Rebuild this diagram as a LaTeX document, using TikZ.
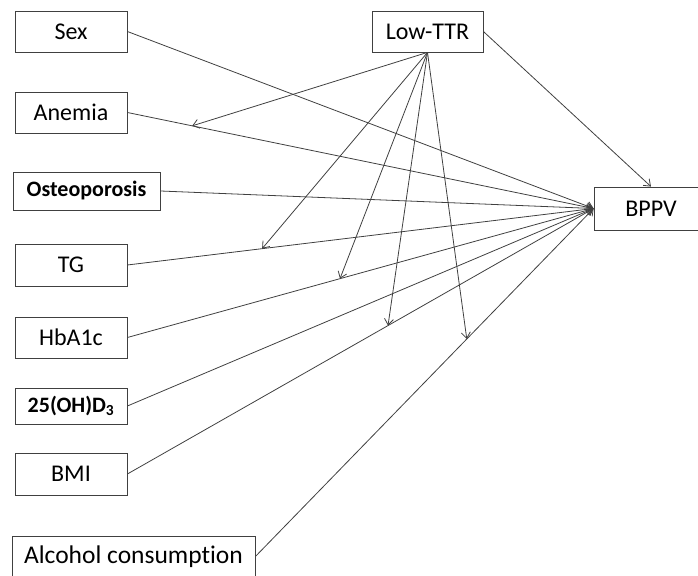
\documentclass[tikz,border=0pt]{standalone}
\usepackage{fontspec}
\setmainfont{Carlito}[Ligatures=NoCommon]
\usetikzlibrary{arrows.meta}

\begin{document}
\begin{tikzpicture}[x=1pt, y=1pt,
    every node/.style={rectangle, draw=black!75, line width=0.8pt, inner sep=2pt, font=\fontsize{24}{28}\selectfont},
    varbox/.style={minimum width=112pt, minimum height=41pt},
    boldbox/.style={font=\bfseries\fontsize{22}{26}\selectfont},
    edge/.style={line width=0.8pt, draw=black!75},
    arrowedge/.style={edge, -{Straight Barb[length=6pt, width=9pt]}}
]
\clip (0,0) rectangle (698,575);

% predictors
\node[varbox] (sex) at (71,543.5) {Sex};
\node[varbox] (anemia) at (71,462.5) {Anemia};
\node[varbox, boldbox, minimum width=147pt, minimum height=38pt] (osteo) at (86.5,384) {Osteoporosis};
\node[varbox, minimum height=42pt] (tg) at (71,310) {TG};
\node[varbox] (hba) at (71,237.5) {HbA1c};
\node[varbox, boldbox, minimum height=36pt] (vitd) at (71,169) {25(OH)D\textsubscript{3}};
\node[varbox, minimum height=42pt] (bmi) at (71,101) {BMI};
\node[varbox, minimum width=243pt, font=\fontsize{25.5}{30}\selectfont] (alcohol) at (133.5,18.5) {Alcohol consumption\hspace{10pt}};

% mediator and outcome
\node[varbox, minimum width=111pt] (ttr) at (427.5,543.5) {Low-TTR};
\node[varbox, minimum width=114pt, minimum height=43pt] (bppv) at (651,366.5) {BPPV};

% direct paths
\draw[arrowedge] (sex.east) -- (bppv.west);
\draw[arrowedge] (anemia.east) -- coordinate[pos=0.139] (anemiam) (bppv.west);
\draw[arrowedge] (osteo.east) -- (bppv.west);
\draw[arrowedge] (tg.east) -- coordinate[pos=0.289] (tgm) (bppv.west);
\draw[arrowedge] (hba.east) -- coordinate[pos=0.456] (hbam) (bppv.west);
\draw[arrowedge] (vitd.east) -- (bppv.west);
\draw[arrowedge] (bmi.east) -- coordinate[pos=0.559] (bmim) (bppv.west);
\draw[arrowedge] (alcohol.east) -- coordinate[pos=0.625] (alcoholm) (bppv.west);
\draw[arrowedge] (ttr.east) -- (bppv.north);

% paths from Low-TTR
\draw[arrowedge] (ttr.south) -- (anemiam);
\draw[arrowedge] (ttr.south) -- (tgm);
\draw[arrowedge] (ttr.south) -- (hbam);
\draw[arrowedge] (ttr.south) -- (bmim);
\draw[arrowedge] (ttr.south) -- (alcoholm);

\end{tikzpicture}
\end{document}
